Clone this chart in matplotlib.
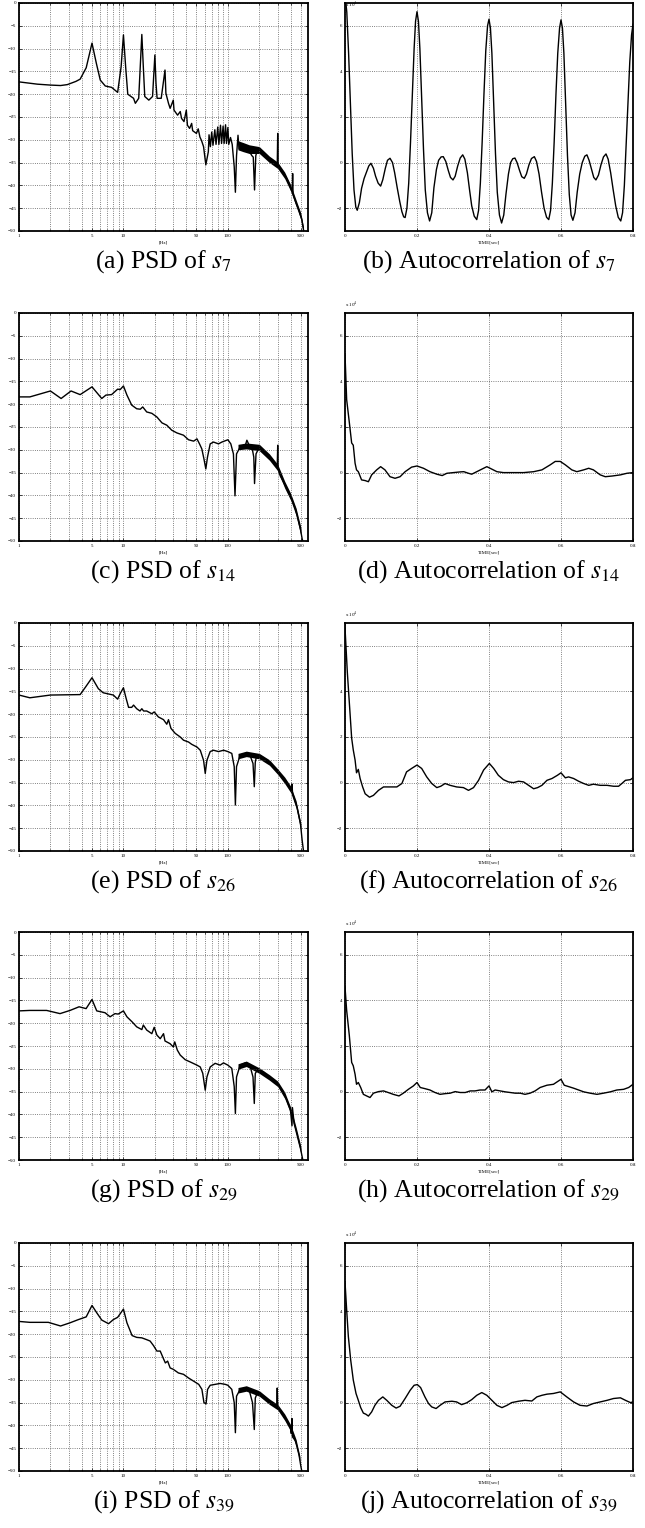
import matplotlib
matplotlib.use("Agg")
import matplotlib.pyplot as plt
from matplotlib.ticker import LogLocator, NullFormatter

plt.rcParams['mathtext.fontset'] = 'stix'
plt.rcParams['font.family'] = ['Liberation Serif', 'DejaVu Serif']

# ---------------- PSD data (frequency [Hz], level [dB]) ----------------
psd_s7_f = [1, 1.5, 2, 2.5, 2.9, 3.5, 3.85, 4.4, 5, 5.5, 6, 6.7, 7.7, 8.8, 9.5, 10, 10.5, 11, 12.5, 13,
            14, 15, 15.5, 16, 17.5, 19, 20, 20.5, 21, 23, 25, 25.5, 27, 28, 30, 30.5, 33, 35, 36, 38,
            40, 41, 43, 45, 46, 50, 52, 54, 56, 58.5, 61.5, 65, 66, 68, 70, 72, 75, 77, 80, 82,
            85, 87, 90, 92, 95, 97, 100, 102, 106, 110, 115, 118, 121, 125, 128, 140, 155, 170, 175, 180,
            185, 190, 200, 230, 260, 290, 297, 300, 303, 330, 360, 400, 413, 417, 421, 450, 480, 510, 530, 550,
            570]
psd_s7_db = [-17.3, -17.8, -18.0, -18.1, -17.9, -17.2, -16.7, -14.2, -8.8, -13.2, -16.9, -18.2, -18.5, -19.6, -14.0, -7.0, -14.0, -20.0, -20.9, -22.0,
             -20.9, -6.9, -14.0, -20.5, -21.3, -20.5, -11.4, -17.6, -20.9, -20.9, -14.7, -19.8, -22.0, -23.1, -21.3, -23.5, -24.6, -23.8, -25.3, -26.0,
             -23.5, -26.8, -27.5, -26.4, -28.0, -28.6, -27.6, -29.4, -30.2, -31.5, -35.5, -32.6, -28.9, -31.5, -28.3, -31.2, -27.8, -31.0, -27.2, -31.0,
             -26.8, -30.8, -27.0, -30.8, -26.7, -30.8, -27.3, -31.0, -29.5, -31.0, -35.9, -41.5, -33.5, -29.0, -32.0, -31.5, -32.0, -33.5, -33.8, -41.0,
             -33.5, -32.5, -32.2, -33.4, -34.6, -35.3, -35.5, -28.6, -35.8, -36.8, -38.2, -40.6, -41.5, -37.4, -42.0, -43.9, -45.5, -47.5, -49.8, -51.0,
             -52.0]
psd_s7_band_f = [125, 140, 160, 200, 250, 300, 350, 400, 450, 500, 530]
psd_s7_band_hi = [-30.2, -30.6, -31.1, -31.5, -33.6, -34.9, -37.1, -39.9, -43.2, -46.1, -49.1]
psd_s7_band_lo = [-32.2, -32.6, -33.0, -33.0, -35.0, -36.3, -38.5, -41.3, -44.6, -47.5, -50.5]

psd_s14_f = [1, 1.27, 2, 2.53, 3.15, 3.85, 5, 6.2, 6.8, 7.7, 8.8, 9.3, 10, 10.8, 12, 13.4, 14.5, 15.3, 16.7, 18.7,
             20.9, 23.4, 26, 29, 32.5, 37.6, 42, 47, 50.6, 53.5, 56.3, 59, 61.5, 63.8, 67.7, 72.8, 81.3, 87.6, 100, 106.7,
             113, 117, 121, 131, 147, 152, 160, 170, 177, 180, 186, 200, 236, 275, 297, 300, 303, 317, 355, 397,
             444, 495, 515, 540]
psd_s14_db = [-18.4, -18.4, -17.1, -18.75, -17.1, -17.9, -16.2, -18.75, -18.0, -17.9, -16.7, -16.8, -16.0, -18.0, -20.2, -21.0, -21.1, -20.6, -21.7, -22.0,
              -22.8, -24.1, -24.6, -25.7, -26.3, -26.8, -27.8, -28.1, -27.6, -28.7, -29.8, -32.0, -34.2, -31.6, -28.7, -28.3, -28.7, -28.3, -27.8, -28.7,
              -30.9, -40.1, -30.9, -29.4, -29.0, -27.9, -29.0, -29.4, -31.6, -37.4, -30.9, -29.4, -30.9, -32.7, -33.6, -29.0, -34.2, -35.7, -37.9, -40.1,
              -43.0, -47.4, -49.6, -51.0]
psd_s14_band_f = [125, 150, 200, 250, 300, 350, 400, 450, 500]
psd_s14_band_hi = [-28.8, -28.5, -28.8, -30.9, -33.2, -36.9, -39.6, -42.8, -47.0]
psd_s14_band_lo = [-30.0, -29.8, -30.2, -32.3, -34.6, -38.4, -41.1, -44.4, -48.8]

psd_s26_f = [1, 1.27, 2, 3.85, 4.35, 5, 5.75, 6.4, 8, 8.8, 9.3, 10, 10.6, 11.2, 12, 12.5, 13.4, 14.4, 15, 15.6,
             16.7, 18.7, 19.7, 21.6, 24.2, 26, 27, 28.5, 31.3, 35, 37.6, 42, 45, 50.6, 54.4, 58.5, 60.7, 63, 67.7, 72.8,
             81.3, 91, 100, 109, 115, 118, 121, 131, 147, 164, 174, 179, 183, 189, 211, 236, 265, 293, 328, 367,
             405, 411, 416, 458, 495, 514, 533]
psd_s26_db = [-15.8, -16.4, -15.8, -15.7, -14.0, -12.0, -14.4, -15.3, -15.8, -16.7, -15.5, -14.2, -16.5, -18.5, -18.5, -18.0, -18.8, -19.3, -18.8, -19.3,
              -19.3, -19.9, -19.5, -20.6, -21.2, -22.2, -21.2, -23.1, -24.2, -25.0, -25.7, -26.1, -26.6, -27.2, -27.9, -30.1, -33.0, -30.1, -28.2, -27.9,
              -28.2, -27.9, -28.2, -28.6, -31.5, -39.9, -31.5, -29.0, -28.6, -29.2, -30.8, -35.9, -30.5, -29.0, -29.3, -30.1, -31.2, -32.4, -33.7, -35.2,
              -36.8, -35.3, -37.3, -40.3, -43.9, -47.6, -50.5]
psd_s26_band_f = [125, 150, 200, 250, 300, 350, 400, 450, 500]
psd_s26_band_hi = [-28.6, -28.1, -28.6, -30.0, -32.0, -33.8, -35.8, -39.0, -44.0]
psd_s26_band_lo = [-29.8, -29.3, -29.8, -31.2, -33.2, -35.2, -37.2, -40.6, -45.6]

psd_s29_f = [1, 1.27, 1.84, 2.47, 3.08, 3.76, 4.39, 5, 5.55, 6.66, 7.45, 8.3, 8.9, 10, 10.8, 12.1, 13.4, 15, 15.5, 16.7,
             18.7, 19.7, 20.9, 22.5, 24.2, 25, 28, 30, 31, 32.8, 35, 39, 43.6, 50.6, 54.4, 57.5, 60.7, 63, 67.7, 75.5,
             84.3, 90.8, 100, 109, 115, 118, 121, 131, 147, 164, 174, 179, 183, 192, 219, 246, 275, 307, 343, 367,
             397, 411, 415, 431, 464, 495, 522, 545]
psd_s29_db = [-17.3, -17.2, -17.2, -17.9, -17.2, -16.4, -16.8, -14.8, -17.3, -17.7, -18.6, -17.9, -18.0, -17.3, -18.6, -19.7, -20.8, -21.4, -20.4, -21.5,
              -22.3, -20.9, -22.6, -23.4, -22.3, -23.9, -24.5, -25.2, -24.1, -25.9, -27.0, -28.0, -28.5, -29.2, -29.6, -31.0, -34.7, -31.8, -29.6, -28.8,
              -29.2, -28.7, -29.2, -29.9, -33.9, -39.8, -31.8, -29.2, -28.7, -29.6, -31.8, -37.6, -31.0, -30.3, -30.7, -31.8, -32.5, -33.6, -35.4, -36.9,
              -39.0, -42.5, -38.5, -42.0, -44.9, -47.4, -50.0, -51.5]
psd_s29_band_f = [125, 150, 200, 250, 300, 350, 400, 450, 500]
psd_s29_band_hi = [-28.9, -28.3, -29.8, -31.3, -32.7, -35.1, -38.5, -42.8, -47.0]
psd_s29_band_lo = [-30.1, -29.5, -31.0, -32.5, -33.9, -36.5, -39.9, -44.2, -48.6]

psd_s39_f = [1, 1.27, 1.91, 2.5, 3.08, 3.7, 4.4, 5, 5.55, 6.2, 7.2, 8, 8.8, 10, 10.8, 12.1, 13.4, 15, 16.7, 18,
             19.4, 20.9, 22.5, 24.2, 25.2, 26.5, 28, 30, 33.6, 37.6, 42, 47, 52.6, 56.4, 59, 61.8, 63.9, 67.7, 75.5, 84.3,
             94.4, 100, 109, 115, 118, 121, 131, 147, 161, 172, 179, 183, 192, 219, 246, 275, 294, 297, 300, 328,
             367, 397, 405, 411, 415, 444, 480, 500, 520]
psd_s39_db = [-17.2, -17.4, -17.4, -18.2, -17.5, -16.8, -16.2, -13.7, -15.3, -16.9, -17.7, -16.8, -16.3, -14.5, -17.5, -20.3, -20.7, -20.8, -21.2, -21.5,
              -22.5, -23.7, -23.7, -25.4, -26.3, -25.9, -27.4, -27.7, -28.5, -28.8, -29.6, -30.3, -31.0, -32.1, -35.0, -35.3, -32.1, -31.2, -31.0, -30.8,
              -31.0, -31.2, -32.1, -35.0, -41.6, -33.6, -32.1, -31.8, -32.5, -35.0, -40.9, -34.0, -32.8, -33.6, -34.7, -35.4, -35.8, -31.8, -36.2, -37.2,
              -39.0, -40.5, -41.8, -38.5, -42.5, -43.4, -46.5, -49.0, -51.0]
psd_s39_band_f = [125, 150, 200, 250, 300, 350, 400, 450, 490]
psd_s39_band_hi = [-31.7, -31.3, -32.4, -34.2, -35.4, -37.5, -39.9, -43.1, -46.8]
psd_s39_band_lo = [-32.9, -32.5, -33.6, -35.4, -36.6, -38.9, -41.3, -44.5, -48.2]

# ---------------- Autocorrelation data (time [sec], value [x 10^4]) ----------------
acf_s7_t = [0, 0.005, 0.01, 0.015, 0.02, 0.025, 0.03, 0.034, 0.04, 0.046, 0.053, 0.06, 0.066, 0.072, 0.079, 0.085, 0.092, 0.099, 0.105, 0.112,
            0.118, 0.125, 0.132, 0.138, 0.145, 0.152, 0.158, 0.163, 0.167, 0.172, 0.177, 0.182, 0.187, 0.192, 0.196, 0.2,
            0.204, 0.208, 0.213, 0.218, 0.223, 0.229, 0.235, 0.241, 0.247, 0.254, 0.26, 0.267, 0.273, 0.28, 0.287, 0.293, 0.3, 0.306,
            0.313, 0.32, 0.327, 0.333, 0.34, 0.346, 0.352, 0.359, 0.366, 0.371, 0.376, 0.381, 0.386, 0.391, 0.396, 0.4,
            0.404, 0.408, 0.413, 0.418, 0.423, 0.429, 0.435, 0.441, 0.447, 0.454, 0.46, 0.466, 0.472, 0.478, 0.485, 0.491, 0.498, 0.504,
            0.511, 0.518, 0.526, 0.532, 0.539, 0.546, 0.553, 0.56, 0.566, 0.571, 0.576, 0.581, 0.586, 0.591, 0.596, 0.6,
            0.604, 0.608, 0.613, 0.618, 0.623, 0.628, 0.633, 0.639, 0.645, 0.652, 0.659, 0.666, 0.672, 0.678, 0.685, 0.691, 0.697, 0.704,
            0.711, 0.718, 0.725, 0.731, 0.738, 0.745, 0.752, 0.759, 0.766, 0.771, 0.776, 0.781, 0.786, 0.791, 0.796, 0.8]
acf_s7_v = [7.4, 6.6, 4.8, 2.6, 0.4, -1.2, -1.95, -2.09, -1.75, -1.13, -0.7, -0.4, -0.15, -0.03, -0.25, -0.6, -0.9, -1.03, -0.75, -0.25,
            0.1, 0.19, 0.0, -0.45, -1.1, -1.7, -2.15, -2.38, -2.41, -2.0, -0.9, 0.9, 3.0, 5.0, 6.2, 6.62,
            6.2, 5.0, 2.8, 0.6, -1.2, -2.2, -2.56, -2.2, -1.1, -0.3, 0.1, 0.25, 0.26, 0.05, -0.35, -0.65, -0.76, -0.6,
            -0.15, 0.2, 0.34, 0.15, -0.45, -1.2, -1.9, -2.35, -2.5, -2.1, -0.9, 0.9, 3.0, 4.9, 6.0, 6.29,
            5.9, 4.8, 2.6, 0.4, -1.3, -2.3, -2.65, -2.3, -1.4, -0.5, 0.0, 0.17, 0.2, 0.0, -0.35, -0.62, -0.69, -0.5,
            -0.1, 0.18, 0.26, 0.05, -0.5, -1.3, -2.0, -2.4, -2.5, -2.1, -0.9, 0.9, 3.0, 4.8, 5.9, 6.26,
            5.9, 4.8, 2.5, 0.3, -1.4, -2.3, -2.53, -2.2, -1.3, -0.5, 0.0, 0.28, 0.34, 0.1, -0.3, -0.65, -0.76, -0.55,
            -0.1, 0.25, 0.38, 0.15, -0.45, -1.2, -1.9, -2.4, -2.56, -2.2, -1.0, 0.8, 2.7, 4.4, 5.6, 6.07]

acf_s14_t = [0, 0.0046, 0.012, 0.0185, 0.023, 0.028, 0.032, 0.037, 0.046, 0.056, 0.065, 0.074, 0.088, 0.099, 0.111, 0.125, 0.139, 0.153, 0.167, 0.185,
             0.2, 0.218, 0.236, 0.255, 0.27, 0.283, 0.301, 0.32, 0.33, 0.343, 0.352, 0.366, 0.385, 0.394, 0.403, 0.422, 0.44, 0.468, 0.496, 0.524,
             0.547, 0.57, 0.584, 0.598, 0.612, 0.63, 0.644, 0.663, 0.677, 0.69, 0.709, 0.723, 0.742, 0.765, 0.783, 0.8]
acf_s14_v = [5.2, 3.2, 2.2, 1.3, 1.2, 0.41, 0.12, 0.04, -0.32, -0.35, -0.4, -0.1, 0.12, 0.26, 0.12, -0.18, -0.25, -0.18, 0.04, 0.24,
             0.29, 0.19, 0.04, -0.07, -0.13, -0.03, 0.0, 0.03, 0.04, -0.03, -0.07, 0.04, 0.19, 0.26, 0.19, 0.04, 0.0, 0.0, 0.0, 0.04,
             0.12, 0.34, 0.49, 0.49, 0.34, 0.12, 0.04, 0.12, 0.19, 0.12, -0.1, -0.18, -0.15, -0.1, -0.03, 0.0]

acf_s26_t = [0, 0.0065, 0.0139, 0.0185, 0.023, 0.028, 0.032, 0.037, 0.042, 0.049, 0.056, 0.068, 0.079, 0.093, 0.107, 0.125, 0.144, 0.158, 0.171, 0.185,
             0.2, 0.213, 0.227, 0.241, 0.255, 0.266, 0.278, 0.292, 0.31, 0.329, 0.343, 0.357, 0.371, 0.385, 0.401, 0.413, 0.426, 0.44, 0.454, 0.468,
             0.482, 0.496, 0.51, 0.524, 0.535, 0.547, 0.561, 0.575, 0.59, 0.6, 0.612, 0.621, 0.635, 0.649, 0.663, 0.677, 0.69, 0.709, 0.728, 0.746,
             0.76, 0.769, 0.779, 0.793, 0.8]
acf_s26_v = [6.8, 4.83, 3.06, 1.95, 1.43, 0.99, 0.43, 0.58, 0.18, -0.19, -0.49, -0.64, -0.56, -0.34, -0.19, -0.19, -0.19, -0.04, 0.47, 0.62,
             0.77, 0.62, 0.25, -0.04, -0.22, -0.16, -0.04, -0.12, -0.19, -0.22, -0.34, -0.22, 0.1, 0.55, 0.84, 0.62, 0.32, 0.13, 0.03, 0.0,
             0.06, 0.03, -0.12, -0.27, -0.22, -0.12, 0.1, 0.18, 0.32, 0.43, 0.21, 0.25, 0.18, 0.06, -0.04, -0.12, -0.07, -0.12, -0.12, -0.16,
             -0.16, -0.04, 0.1, 0.13, 0.21]

acf_s29_t = [0, 0.0046, 0.012, 0.0185, 0.023, 0.028, 0.032, 0.037, 0.0436, 0.051, 0.06, 0.0695, 0.079, 0.093, 0.107, 0.12, 0.134, 0.15, 0.162, 0.176,
             0.19, 0.2, 0.209, 0.222, 0.236, 0.25, 0.264, 0.278, 0.292, 0.306, 0.32, 0.334, 0.348, 0.361, 0.375, 0.389, 0.4, 0.408, 0.417, 0.431,
             0.445, 0.459, 0.473, 0.487, 0.5, 0.514, 0.528, 0.542, 0.561, 0.579, 0.6, 0.609, 0.621, 0.635, 0.649, 0.663, 0.681, 0.7, 0.718, 0.737,
             0.755, 0.774, 0.788, 0.8]
acf_s29_v = [4.6, 3.56, 2.46, 1.28, 1.13, 0.76, 0.32, 0.4, 0.18, -0.12, -0.19, -0.26, -0.07, 0.0, 0.03, -0.04, -0.12, -0.19, -0.07, 0.1,
             0.25, 0.4, 0.18, 0.13, 0.07, -0.04, -0.12, -0.09, -0.07, 0.0, -0.04, -0.04, 0.03, 0.03, 0.07, 0.07, 0.25, -0.01, 0.07, 0.03,
             -0.01, -0.04, -0.07, -0.07, -0.12, -0.07, 0.03, 0.18, 0.28, 0.32, 0.54, 0.28, 0.22, 0.15, 0.07, -0.01, -0.07, -0.12, -0.07, -0.01,
             0.07, 0.1, 0.18, 0.32]

acf_s39_t = [0, 0.0046, 0.0093, 0.0158, 0.023, 0.0306, 0.037, 0.0436, 0.051, 0.058, 0.065, 0.074, 0.083, 0.093, 0.105, 0.116, 0.13, 0.142, 0.153, 0.167,
             0.181, 0.192, 0.201, 0.21, 0.222, 0.232, 0.241, 0.253, 0.264, 0.278, 0.297, 0.31, 0.324, 0.338, 0.352, 0.366, 0.38, 0.394, 0.408, 0.422,
             0.436, 0.45, 0.463, 0.482, 0.5, 0.519, 0.533, 0.547, 0.561, 0.579, 0.598, 0.616, 0.635, 0.653, 0.672, 0.69, 0.709, 0.728, 0.746, 0.765,
             0.779, 0.793, 0.8]
acf_s39_v = [5.3, 4.07, 2.9, 1.87, 0.99, 0.4, 0.1, -0.22, -0.46, -0.51, -0.59, -0.41, -0.12, 0.1, 0.25, 0.1, -0.12, -0.24, -0.16, 0.18,
             0.54, 0.76, 0.79, 0.66, 0.25, -0.04, -0.19, -0.26, -0.12, 0.03, 0.06, 0.03, -0.09, -0.01, 0.13, 0.32, 0.44, 0.32, 0.1, -0.12,
             -0.22, -0.12, 0.0, 0.06, 0.1, 0.07, 0.25, 0.32, 0.37, 0.4, 0.47, 0.25, 0.03, -0.12, -0.15, -0.04, 0.03, 0.1, 0.18, 0.21,
             0.1, 0.0, 0.03]

psd_captions = ["(a) PSD of $s_{7}$", "(c) PSD of $s_{14}$", "(e) PSD of $s_{26}$",
                "(g) PSD of $s_{29}$", "(i) PSD of $s_{39}$"]
acf_captions = ["(b) Autocorrelation of $s_{7}$", "(d) Autocorrelation of $s_{14}$",
                "(f) Autocorrelation of $s_{26}$", "(h) Autocorrelation of $s_{29}$",
                "(j) Autocorrelation of $s_{39}$"]
psd_xticks = [1, 5, 10, 50, 100, 500]
psd_xticklabels = ["1", "5", "10", "50", "100", "500"]
psd_yticks = [0, -5, -10, -15, -20, -25, -30, -35, -40, -45, -50]
acf_xticks = [0, 0.2, 0.4, 0.6, 0.8]
acf_xticklabels = ["0", "0.2", "0.4", "0.6", "0.8"]
acf_yticks = [-2, 0, 2, 4, 6]

psd_data = [
    (psd_s7_f, psd_s7_db, psd_s7_band_f, psd_s7_band_hi, psd_s7_band_lo),
    (psd_s14_f, psd_s14_db, psd_s14_band_f, psd_s14_band_hi, psd_s14_band_lo),
    (psd_s26_f, psd_s26_db, psd_s26_band_f, psd_s26_band_hi, psd_s26_band_lo),
    (psd_s29_f, psd_s29_db, psd_s29_band_f, psd_s29_band_hi, psd_s29_band_lo),
    (psd_s39_f, psd_s39_db, psd_s39_band_f, psd_s39_band_hi, psd_s39_band_lo),
]
acf_data = [(acf_s7_t, acf_s7_v), (acf_s14_t, acf_s14_v), (acf_s26_t, acf_s26_v),
            (acf_s29_t, acf_s29_v), (acf_s39_t, acf_s39_v)]

W, H = 645, 1528
fig = plt.figure(figsize=(W / 100, H / 100), dpi=100)

row_tops = [3, 313, 623, 932, 1243]
ax_h = 228
left_x0, left_w = 19, 289
right_x0, right_w = 345, 288

TICK_FS = 3.6
CAP_FS = 18.5
CAP_GAP = 31
GRID_KW = dict(linestyle=':', color='0.35', linewidth=0.6)


def style_axes(ax):
    for sp in ax.spines.values():
        sp.set_linewidth(1.3)
        sp.set_color('black')
    ax.tick_params(which='both', direction='in', top=True, right=True,
                   labelsize=TICK_FS, pad=2, width=0.5, colors='black')
    ax.tick_params(which='major', length=2.5)
    ax.tick_params(which='minor', length=1.5)


for i, top in enumerate(row_tops):
    bottom = H - (top + ax_h)
    # --- PSD panel ---
    f, db, bf, bhi, blo = psd_data[i]
    ax = fig.add_axes([left_x0 / W, bottom / H, left_w / W, ax_h / H])
    ax.fill_between(bf, blo, bhi, color='black', linewidth=0)
    ax.plot(f, db, color='black', linewidth=1.0)
    ax.set_xscale('log')
    ax.set_xlim(1, 585)
    ax.set_ylim(-50, 0)
    ax.set_xticks(psd_xticks)
    ax.set_xticklabels(psd_xticklabels)
    ax.xaxis.set_minor_locator(LogLocator(base=10, subs=[2, 3, 4, 6, 7, 8, 9]))
    ax.xaxis.set_minor_formatter(NullFormatter())
    ax.set_yticks(psd_yticks)
    ax.grid(True, which='both', axis='x', **GRID_KW)
    ax.grid(True, which='major', axis='y', **GRID_KW)
    ax.set_xlabel('[Hz]', fontsize=TICK_FS, labelpad=2)
    style_axes(ax)
    fig.text((left_x0 + left_w / 2) / W, 1 - (top + ax_h + CAP_GAP) / H, psd_captions[i],
             ha='center', va='center', fontsize=CAP_FS)

    # --- Autocorrelation panel ---
    t, v = acf_data[i]
    ax2 = fig.add_axes([right_x0 / W, bottom / H, right_w / W, ax_h / H])
    ax2.plot(t, v, color='black', linewidth=1.0)
    ax2.set_xlim(0, 0.8)
    ax2.set_ylim(-3, 7)
    ax2.set_xticks(acf_xticks)
    ax2.set_xticklabels(acf_xticklabels)
    ax2.set_yticks(acf_yticks)
    ax2.grid(True, which='major', **GRID_KW)
    ax2.set_xlabel('TIME[sec]', fontsize=TICK_FS, labelpad=2)
    if i == 0:
        # first row: the multiplier sits at the very top edge of the page
        fig.text(right_x0 / W, 1 - 0.5 / H, 'x 10$^{4}$', fontsize=TICK_FS,
                 ha='left', va='top')
    else:
        ax2.text(0.0, 1.012, 'x 10$^{4}$', transform=ax2.transAxes, fontsize=TICK_FS,
                 ha='left', va='bottom')
    style_axes(ax2)
    fig.text((right_x0 + right_w / 2) / W, 1 - (top + ax_h + CAP_GAP) / H, acf_captions[i],
             ha='center', va='center', fontsize=CAP_FS)

fig.savefig('out.png', dpi=100)
